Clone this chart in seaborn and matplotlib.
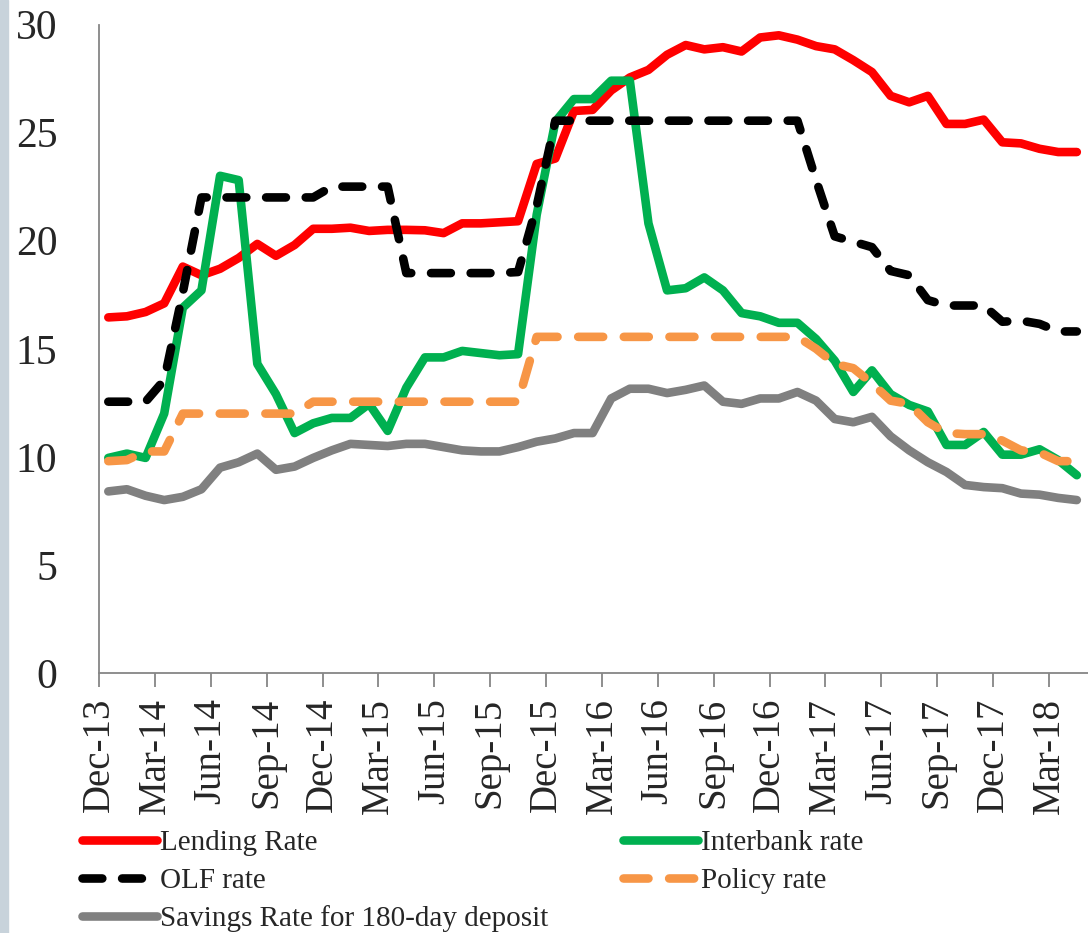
"""
Interest rates chart: lending, interbank, OLF, policy and savings rates.
"""

import matplotlib

matplotlib.use("Agg")
import matplotlib.pyplot as plt
from matplotlib.patches import Rectangle
import seaborn as sns
import numpy as np
import pandas as pd

# Monthly data, Dec-13 .. Apr-18
lending_rate = [
    16.45, 16.5, 16.7, 17.1, 18.8, 18.4, 18.7, 19.2, 19.85, 19.3, 19.8, 20.55,
    20.55, 20.6, 20.45, 20.5, 20.5, 20.48, 20.35, 20.8, 20.8, 20.85, 20.9, 23.55,
    23.8, 26.0, 26.05, 26.95, 27.55, 27.9, 28.6, 29.05, 28.85, 28.95, 28.75, 29.4,
    29.5, 29.3, 29.0, 28.85, 28.35, 27.8, 26.7, 26.4, 26.7, 25.4, 25.4, 25.6,
    24.55, 24.5, 24.25, 24.1, 24.1,
]
interbank_rate = [
    9.95, 10.15, 9.95, 12.0, 16.9, 17.7, 23.0, 22.8, 14.3, 12.9, 11.1, 11.55,
    11.8, 11.8, 12.45, 11.2, 13.2, 14.6, 14.6, 14.9, 14.8, 14.7, 14.75, 21.2,
    25.5, 26.55, 26.55, 27.4, 27.4, 20.8, 17.7, 17.8, 18.3, 17.7, 16.65, 16.5,
    16.2, 16.2, 15.45, 14.45, 13.0, 14.0, 12.9, 12.4, 12.1, 10.55, 10.55, 11.15,
    10.1, 10.1, 10.35, 9.85, 9.15,
]
olf_rate = [
    12.55, 12.55, 12.55, 13.55, 17.6, 22.0, 22.0, 22.0, 22.0, 22.0, 22.0, 22.0,
    22.5, 22.5, 22.5, 22.5, 18.5, 18.5, 18.5, 18.5, 18.5, 18.5, 18.55, 21.6,
    25.55, 25.55, 25.55, 25.55, 25.55, 25.55, 25.55, 25.55, 25.55, 25.55, 25.55, 25.55,
    25.55, 25.55, 22.8, 20.2, 19.95, 19.7, 18.6, 18.4, 17.25, 17.0, 17.0, 17.0,
    16.25, 16.3, 16.15, 15.8, 15.8,
]
policy_rate = [
    9.8, 9.85, 10.25, 10.25, 12.0, 12.0, 12.0, 12.0, 12.0, 12.0, 12.0, 12.55,
    12.55, 12.55, 12.55, 12.55, 12.55, 12.55, 12.55, 12.55, 12.55, 12.55, 12.55, 15.55,
    15.55, 15.55, 15.55, 15.55, 15.55, 15.55, 15.55, 15.55, 15.55, 15.55, 15.55, 15.55,
    15.55, 15.55, 15.0, 14.3, 14.1, 13.4, 12.6, 12.45, 11.6, 11.1, 11.05, 11.05,
    10.75, 10.3, 10.2, 9.8, 9.8,
]
savings_rate = [
    8.4, 8.5, 8.2, 8.0, 8.15, 8.5, 9.5, 9.75, 10.15, 9.4, 9.55, 9.95,
    10.3, 10.6, 10.55, 10.5, 10.6, 10.6, 10.45, 10.3, 10.25, 10.25, 10.45, 10.7,
    10.85, 11.1, 11.1, 12.7, 13.15, 13.15, 12.95, 13.1, 13.3, 12.55, 12.45, 12.7,
    12.7, 13.0, 12.6, 11.75, 11.6, 11.85, 10.95, 10.3, 9.75, 9.3, 8.7, 8.6,
    8.55, 8.3, 8.25, 8.1, 8.0,
]

tick_labels = [
    "Dec-13", "Mar-14", "Jun-14", "Sep-14", "Dec-14", "Mar-15", "Jun-15",
    "Sep-15", "Dec-15", "Mar-16", "Jun-16", "Sep-16", "Dec-16", "Mar-17",
    "Jun-17", "Sep-17", "Dec-17", "Mar-18",
]

series = [
    ("Lending Rate", lending_rate, "#FF0000", None),
    ("Interbank rate", interbank_rate, "#00B050", None),
    ("OLF rate", olf_rate, "#000000", (2.3, 2.3)),
    ("Policy rate", policy_rate, "#F79646", (2.9, 2.4)),
    ("Savings Rate for 180-day deposit", savings_rate, "#808080", None),
]

sns.set_style("white")
plt.rcParams["font.family"] = ["Liberation Serif", "DejaVu Serif"]

fig = plt.figure(figsize=(10.88, 9.33), dpi=100)
ax = fig.add_axes([99 / 1088, 1 - 673 / 933, 989 / 1088, 648.5 / 933])

# light strip along the left edge
fig.patches.append(
    Rectangle((0, 0), 8 / 1088, 1, transform=fig.transFigure,
              color="#C8D3DB", zorder=0)
)

# each monthly value sits in the middle of its month
x = np.arange(len(lending_rate)) + 0.5

handles = {}
for name, values, color, dash in series:
    df = pd.DataFrame({"x": x, "y": values})
    sns.lineplot(data=df, x="x", y="y", color=color, linewidth=6.2, ax=ax)
    line = ax.lines[-1]
    line.set_solid_capstyle("round")
    line.set_solid_joinstyle("round")
    if dash is not None:
        line.set_dashes(dash)
        line.set_dash_capstyle("round")
    handles[name] = line

ax.set_xlim(0, 53.1)
ax.set_ylim(0, 30)
ax.set_xticks(np.arange(0, 3 * len(tick_labels), 3))
ax.set_xticklabels(tick_labels, rotation=90, fontsize=28)
ax.set_yticks(np.arange(0, 31, 5))
ax.set_yticklabels([str(v) for v in range(0, 31, 5)], fontsize=30)
ax.set_xlabel("")
ax.set_ylabel("")

for side in ["top", "right"]:
    ax.spines[side].set_visible(False)
for side in ["left", "bottom"]:
    ax.spines[side].set_color("#868686")
    ax.spines[side].set_linewidth(1.3)

ax.tick_params(axis="x", direction="out", length=10, width=1.3,
               color="#868686", pad=8, bottom=True)
ax.tick_params(axis="y", length=0, pad=30)

# legend: columns filled top-down
order = ["Lending Rate", "OLF rate", "Savings Rate for 180-day deposit",
         "Interbank rate", "Policy rate"]
fig.legend(
    [handles[n] for n in order],
    order,
    loc="upper left",
    bbox_to_anchor=(82 / 1088, 1 - 830 / 933),
    ncol=2,
    frameon=False,
    fontsize=21,
    handlelength=2.57,
    handletextpad=0.1,
    columnspacing=2.57,
    labelspacing=0.38,
    borderpad=0,
    borderaxespad=0,
)

fig.savefig("out.png", dpi=100)
